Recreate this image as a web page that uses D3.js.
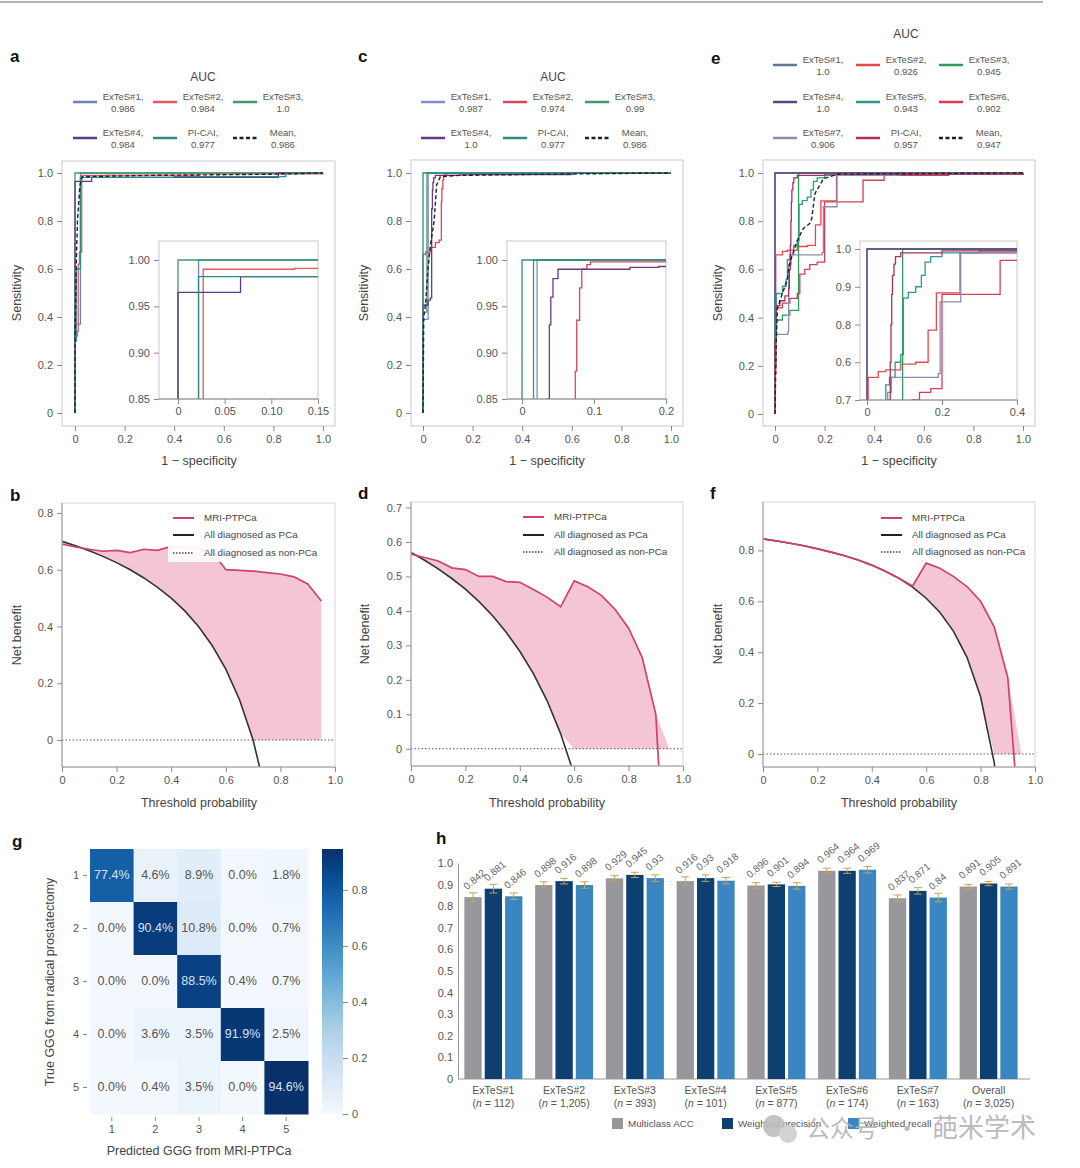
<!DOCTYPE html>
<html>
<head>
<meta charset="utf-8">
<script src="https://cdn.jsdelivr.net/npm/d3@7"></script>
<style>
  body { margin: 0; background: #fff; }
  svg { font-family: "Liberation Sans", Arial, sans-serif; }
</style>
</head>
<body>
<svg id="fig" width="1080" height="1168"></svg>
<script>
// ---------------- data: ROC panels ----------------
const rocNamesA = ['ExTeS#1', 'ExTeS#2', 'ExTeS#3', 'ExTeS#4', 'PI-CAI', 'Mean'];
const rocAucA = ['0.986', '0.984', '1.0', '0.984', '0.977', '0.986'];
const rocColorsA = ['#6f80b9', '#e25a61', '#3f9b68', '#5b3b85', '#2b8c86', '#222'];
const rocPointsA = [
  [[0, 0], [0, 0.37], [0.022, 1], [1, 1]],
  [[0, 0], [0, 0.32], [0.01, 0.34], [0.013, 0.62], [0.018, 0.67], [0.027, 0.99], [0.125, 0.991], [0.5, 0.996], [1, 1]],
  [[0, 0], [0, 1], [1, 1]],
  [[0, 0], [0, 0.965], [0.067, 0.982], [0.82, 1], [1, 1]],
  [[0, 0], [0, 0.3], [0.005, 0.6], [0.022, 0.982], [0.4, 0.985], [0.85, 1], [1, 1]],
  [[0, 0], [0, 0.3], [0.005, 0.62], [0.01, 0.8], [0.02, 0.95], [0.03, 0.985], [0.3, 0.99], [0.8, 0.995], [1, 1]]
];

const rocNamesC = ['ExTeS#1', 'ExTeS#2', 'ExTeS#3', 'ExTeS#4', 'PI-CAI', 'Mean'];
const rocAucC = ['0.987', '0.974', '0.99', '1.0', '0.977', '0.986'];
const rocColorsC = ['#7d90c8', '#d9475a', '#3f9b68', '#6b3a80', '#2b8c86', '#222'];
const rocPointsC = [
  [[0, 0], [0, 0.39], [0.021, 1], [1, 1]],
  [[0, 0], [0, 0.66], [0.01, 0.67], [0.03, 0.69], [0.05, 0.71], [0.065, 0.72], [0.074, 0.88], [0.076, 0.935], [0.08, 0.97], [0.083, 0.99], [0.09, 0.995], [0.095, 0.998], [0.6, 1], [1, 1]],
  [[0, 0], [0, 0.42], [0.016, 1], [1, 1]],
  [[0, 0], [0, 0.45], [0.02, 0.47], [0.03, 0.48], [0.035, 0.85], [0.038, 0.93], [0.04, 0.96], [0.043, 0.98], [0.05, 0.99], [0.15, 0.992], [0.19, 0.993], [0.6, 1], [1, 1]],
  [[0, 0], [0, 1], [1, 1]],
  [[0, 0], [0.003, 0.4], [0.01, 0.45], [0.02, 0.6], [0.03, 0.7], [0.045, 0.8], [0.055, 0.95], [0.07, 0.985], [0.15, 0.99], [0.5, 0.995], [1, 1]]
];

const rocNamesE = ['ExTeS#1', 'ExTeS#2', 'ExTeS#3', 'ExTeS#4', 'ExTeS#5', 'ExTeS#6', 'ExTeS#7', 'PI-CAI', 'Mean'];
const rocAucE = ['1.0', '0.926', '0.945', '1.0', '0.943', '0.902', '0.906', '0.957', '0.947'];
const rocColorsE = ['#5b7a9c', '#e8474c', '#2f9a5c', '#5d4585', '#2a9b8c', '#d63d55', '#8c8cb4', '#a8325e', '#222'];
const rocPointsE = [
  [[0, 0], [0, 1], [1, 1]],
  [[0, 0], [0, 0.17], [0.003, 0.66], [0.03, 0.675], [0.05, 0.68], [0.09, 0.695], [0.13, 0.7], [0.163, 0.785], [0.185, 0.884], [0.248, 0.99], [0.5, 0.995], [1, 1]],
  [[0, 0], [0, 0.3], [0.005, 0.39], [0.03, 0.41], [0.06, 0.43], [0.095, 1], [1, 1]],
  [[0, 0], [0, 1], [1, 1]],
  [[0, 0], [0, 0.45], [0.005, 0.5], [0.03, 0.53], [0.045, 0.56], [0.05, 0.64], [0.06, 0.66], [0.075, 0.7], [0.09, 0.72], [0.097, 0.87], [0.11, 0.885], [0.13, 0.9], [0.145, 0.93], [0.155, 0.965], [0.17, 0.98], [0.2, 0.99], [0.3, 0.995], [1, 1]],
  [[0, 0], [0, 0.2], [0.003, 0.44], [0.03, 0.46], [0.06, 0.48], [0.09, 0.5], [0.1, 0.58], [0.12, 0.6], [0.14, 0.62], [0.17, 0.63], [0.2, 0.88], [0.355, 0.97], [0.44, 0.99], [0.7, 0.995], [1, 1]],
  [[0, 0], [0, 0.2], [0.004, 0.33], [0.052, 0.34], [0.055, 0.62], [0.065, 0.66], [0.19, 0.67], [0.195, 0.86], [0.25, 0.99], [0.5, 0.995], [1, 1]],
  [[0, 0], [0, 0.3], [0.005, 0.45], [0.02, 0.47], [0.04, 0.49], [0.055, 0.52], [0.058, 0.6], [0.062, 0.7], [0.064, 0.8], [0.066, 0.88], [0.068, 0.93], [0.072, 0.96], [0.076, 0.98], [0.09, 0.99], [0.2, 0.995], [1, 1]],
  [[0, 0], [0.005, 0.3], [0.01, 0.44], [0.03, 0.5], [0.05, 0.56], [0.06, 0.63], [0.067, 0.65], [0.09, 0.72], [0.114, 0.77], [0.14, 0.79], [0.148, 0.81], [0.161, 0.914], [0.195, 0.976], [0.25, 0.995], [1, 1]]
];
const insetTicksE = [0.6, 0.7, 0.8, 0.9, 1.0];
const insetLabelsE = ['0.7', '0.6', '0.8', '0.9', '1.0'];

// ---------------- data: decision curves ----------------
const thresholds = [0, 0.05, 0.1, 0.15, 0.2, 0.25, 0.3, 0.35, 0.4, 0.45, 0.5, 0.55, 0.6, 0.65, 0.7, 0.75, 0.8, 0.85, 0.9, 0.95];
const dcaModelB = [0.69, 0.68, 0.672, 0.665, 0.668, 0.66, 0.672, 0.668, 0.682, 0.68, 0.675, 0.665, 0.6, 0.598, 0.595, 0.59, 0.585, 0.575, 0.55, 0.49];
const dcaAllB = [0.7, 0.684, 0.667, 0.647, 0.625, 0.6, 0.571, 0.538, 0.5, 0.455, 0.4, 0.333, 0.25, 0.143, 0, -0.2, -0.5, -1.0, -2.0, -5.0];
const dcaModelD = [0.565, 0.555, 0.545, 0.525, 0.52, 0.5, 0.5, 0.485, 0.483, 0.462, 0.44, 0.412, 0.487, 0.47, 0.445, 0.405, 0.35, 0.265, 0.1, -0.6];
const dcaAllD = [0.57, 0.547, 0.522, 0.494, 0.463, 0.427, 0.386, 0.338, 0.283, 0.218, 0.14, 0.044, -0.075, -0.24, -0.46, -0.76, -1.2, -1.85, -3.0, -6.2];
const dcaModelF = [0.845, 0.837, 0.828, 0.818, 0.806, 0.793, 0.779, 0.762, 0.742, 0.718, 0.69, 0.66, 0.75, 0.73, 0.698, 0.658, 0.6, 0.5, 0.3, -0.38];
const dcaAllF = [0.845, 0.837, 0.828, 0.818, 0.806, 0.793, 0.779, 0.762, 0.742, 0.718, 0.69, 0.656, 0.612, 0.557, 0.483, 0.38, 0.225, -0.033, -0.55, -2.1];
const dcaLegend = ['MRI-PTPCa', 'All diagnosed as PCa', 'All diagnosed as non-PCa'];

// ---------------- data: confusion matrix ----------------
const gggLabels = [1, 2, 3, 4, 5];
const confusion = [
  [77.4, 4.6, 8.9, 0.0, 1.8],
  [0.0, 90.4, 10.8, 0.0, 0.7],
  [0.0, 0.0, 88.5, 0.4, 0.7],
  [0.0, 3.6, 3.5, 91.9, 2.5],
  [0.0, 0.4, 3.5, 0.0, 94.6]
];
const colorbarTicks = [0, 0.2, 0.4, 0.6, 0.8];

// ---------------- data: bars ----------------
const cohorts = ['ExTeS#1', 'ExTeS#2', 'ExTeS#3', 'ExTeS#4', 'ExTeS#5', 'ExTeS#6', 'ExTeS#7', 'Overall'];
const cohortN = ['112', '1,205', '393', '101', '877', '174', '163', '3,025'];
const metricNames = ['Multiclass ACC', 'Weighted precision', 'Weighted recall'];
const accValues = [0.842, 0.898, 0.929, 0.916, 0.896, 0.964, 0.837, 0.891];
const precValues = [0.881, 0.916, 0.945, 0.93, 0.901, 0.964, 0.871, 0.905];
const recValues = [0.846, 0.898, 0.93, 0.918, 0.894, 0.969, 0.84, 0.891];
const accErr = [0.02, 0.015, 0.012, 0.02, 0.013, 0.012, 0.015, 0.01];
const precErr = [0.02, 0.013, 0.012, 0.015, 0.01, 0.012, 0.015, 0.01];
const recErr = [0.015, 0.015, 0.015, 0.015, 0.015, 0.015, 0.02, 0.012];
const barTicks = [0, 0.1, 0.2, 0.3, 0.4, 0.5, 0.6, 0.7, 0.8, 0.9, 1.0];

// ---------------- helpers ----------------
const svg = d3.select('#fig');
const fmt1 = d => d === 0 ? '0' : d3.format('.1f')(d);
const fmt2 = d => d === 0 ? '0' : d3.format('.2f')(d);

function styleAxis(sel) {
  sel.select('.domain').remove();
  sel.selectAll('.tick line').attr('stroke', '#8a8a8a');
  sel.selectAll('.tick text').attr('fill', '#555').style('font-size', '11px');
}

function panelLetter(t, x, y) {
  svg.append('text').attr('x', x).attr('y', y).text(t)
    .attr('font-weight', 'bold').attr('font-size', 17).attr('fill', '#111')
    .attr('dominant-baseline', 'middle');
}

function axisTitle(t, x, y, rot) {
  svg.append('text').text(t)
    .attr('transform', `translate(${x},${y})` + (rot ? ' rotate(-90)' : ''))
    .attr('text-anchor', 'middle').attr('dominant-baseline', 'middle')
    .attr('font-size', 12.5).attr('fill', '#444');
}

svg.append('line').attr('x1', 0).attr('x2', 1043).attr('y1', 2).attr('y2', 2)
  .attr('stroke', '#9a9a9a').attr('stroke-width', 1.5);

// ---------------- ROC ----------------
function drawRoc(p) {
  const g = svg.append('g');
  const [bx0, by0, bx1, by1] = p.box;
  const x = d3.scaleLinear().domain([0, 1]).range(p.xRange);
  const y = d3.scaleLinear().domain([0, 1]).range(p.yRange);

  // legend
  g.append('text').attr('x', p.legend.x0 + p.legend.dx + 50).attr('y', p.legend.auc)
    .attr('text-anchor', 'middle').attr('dominant-baseline', 'middle')
    .attr('font-size', 12).attr('fill', '#444').text('AUC');
  p.names.forEach((name, i) => {
    const cx = p.legend.x0 + (i % 3) * p.legend.dx;
    const cy = p.legend.rows[Math.floor(i / 3)];
    g.append('line').attr('x1', cx).attr('x2', cx + 24).attr('y1', cy).attr('y2', cy)
      .attr('stroke', p.colors[i]).attr('stroke-width', 2.5)
      .attr('stroke-dasharray', i === p.meanIdx ? '4,2.5' : null);
    const t = g.append('text').attr('text-anchor', 'middle').attr('font-size', 9.5).attr('fill', '#555');
    t.append('tspan').attr('x', cx + 50).attr('y', cy - 2).text(name + ',');
    t.append('tspan').attr('x', cx + 50).attr('y', cy + 10).text(p.aucs[i]);
  });

  g.append('rect').attr('x', bx0).attr('y', by0).attr('width', bx1 - bx0).attr('height', by1 - by0)
    .attr('fill', 'none').attr('stroke', '#c9c9c9');
  g.append('g').attr('transform', `translate(${bx0},0)`)
    .call(d3.axisLeft(y).tickValues([0, 0.2, 0.4, 0.6, 0.8, 1]).tickFormat(fmt1).tickSize(5).tickPadding(4))
    .call(styleAxis);
  g.append('g').attr('transform', `translate(0,${by1})`)
    .call(d3.axisBottom(x).tickValues([0, 0.2, 0.4, 0.6, 0.8, 1]).tickFormat(fmt1).tickSize(5).tickPadding(4))
    .call(styleAxis);

  const step = d3.line().x(d => x(d[0])).y(d => y(d[1])).curve(d3.curveStepAfter);
  const lin = d3.line().x(d => x(d[0])).y(d => y(d[1]));
  p.points.forEach((pts, i) => {
    g.append('path').attr('d', i === p.meanIdx ? lin(pts) : step(pts))
      .attr('fill', 'none').attr('stroke', p.colors[i])
      .attr('stroke-width', i === p.meanIdx ? 1.4 : 1.3)
      .attr('stroke-dasharray', i === p.meanIdx ? '4,2.5' : null);
  });

  // inset
  const ins = p.inset;
  const [ix0, iy0, ix1, iy1] = ins.box;
  const ix = d3.scaleLinear().domain(ins.xDomain).range(ins.xRange);
  const iy = d3.scaleLinear().domain(ins.yDomain).range(ins.yRange);
  g.append('rect').attr('x', ix0).attr('y', iy0).attr('width', ix1 - ix0).attr('height', iy1 - iy0)
    .attr('fill', '#fff').attr('stroke', '#c9c9c9');
  g.append('clipPath').attr('id', p.id + '-clip').append('rect')
    .attr('x', ix0).attr('y', iy0).attr('width', ix1 - ix0).attr('height', iy1 - iy0);
  const gi = g.append('g').attr('clip-path', `url(#${p.id}-clip)`);
  const istep = d3.line().x(d => ix(d[0])).y(d => iy(d[1])).curve(d3.curveStepAfter);
  p.points.forEach((pts, i) => {
    if (i === p.meanIdx) return;
    gi.append('path').attr('d', istep(pts)).attr('fill', 'none')
      .attr('stroke', p.colors[i]).attr('stroke-width', 1.3);
  });
  g.append('line').attr('x1', ix0).attr('x2', ix1).attr('y1', iy1).attr('y2', iy1).attr('stroke', '#888');
  g.append('g').attr('transform', `translate(${ix0},0)`)
    .call(d3.axisLeft(iy).tickValues(ins.yTicks).tickFormat((d, i) => ins.yLabels ? ins.yLabels[i] : fmt2(d)).tickSize(5).tickPadding(4))
    .call(styleAxis);
  g.append('g').attr('transform', `translate(0,${iy1})`)
    .call(d3.axisBottom(ix).tickValues(ins.xTicks).tickFormat(ins.xFmt).tickSize(5).tickPadding(3))
    .call(styleAxis);
}

drawRoc({
  id: 'rocA', box: [62, 161, 335, 426], xRange: [75, 323], yRange: [413, 173],
  names: rocNamesA, aucs: rocAucA, colors: rocColorsA, points: rocPointsA, meanIdx: 5,
  legend: { x0: 73, dx: 80, rows: [102, 138], auc: 78 },
  inset: { box: [159, 241, 318, 399], xDomain: [0, 0.15], xRange: [178, 318], yDomain: [0.85, 1.0], yRange: [399, 260],
    xTicks: [0, 0.05, 0.1, 0.15], xFmt: fmt2, yTicks: [0.85, 0.9, 0.95, 1.0] }
});
drawRoc({
  id: 'rocC', box: [411, 160, 683, 426], xRange: [423, 671], yRange: [413, 173],
  names: rocNamesC, aucs: rocAucC, colors: rocColorsC, points: rocPointsC, meanIdx: 5,
  legend: { x0: 421, dx: 82, rows: [102, 138], auc: 78 },
  inset: { box: [507, 241, 666, 399], xDomain: [0, 0.2], xRange: [522, 666], yDomain: [0.85, 1.0], yRange: [399, 260],
    xTicks: [0, 0.1, 0.2], xFmt: fmt1, yTicks: [0.85, 0.9, 0.95, 1.0] }
});
drawRoc({
  id: 'rocE', box: [763, 160, 1035, 426], xRange: [775, 1023], yRange: [414, 173],
  names: rocNamesE, aucs: rocAucE, colors: rocColorsE, points: rocPointsE, meanIdx: 8,
  legend: { x0: 773, dx: 83, rows: [65, 102, 138], auc: 35 },
  inset: { box: [860, 241, 1017, 400], xDomain: [0, 0.4], xRange: [867, 1017], yDomain: [0.6, 1.0], yRange: [400, 249],
    xTicks: [0, 0.2, 0.4], xFmt: fmt1, yTicks: insetTicksE, yLabels: insetLabelsE }
});

panelLetter('a', 10, 58); panelLetter('c', 358, 58); panelLetter('e', 711, 60);
axisTitle('1 − specificity', 199, 462); axisTitle('1 − specificity', 547, 462); axisTitle('1 − specificity', 899, 462);
axisTitle('Sensitivity', 18, 293, true); axisTitle('Sensitivity', 365, 293, true); axisTitle('Sensitivity', 719, 293, true);

// ---------------- decision curves ----------------
function drawDca(p) {
  const g = svg.append('g');
  const [bx0, by0, bx1, by1] = p.box;
  const x = d3.scaleLinear().domain([0, 1]).range([bx0, bx1]);
  const y = d3.scaleLinear().domain(p.yDomain).range([by1, by0]);
  const rows = thresholds.map((t, i) => ({ t, m: p.model[i], a: p.all[i] }));

  g.append('clipPath').attr('id', p.id + '-clip').append('rect')
    .attr('x', bx0).attr('y', by0).attr('width', bx1 - bx0).attr('height', by1 - by0);
  const gc = g.append('g').attr('clip-path', `url(#${p.id}-clip)`);

  const area = d3.area().x(d => x(d.t)).y0(d => y(Math.max(d.a, 0))).y1(d => y(Math.max(d.m, 0)));
  gc.append('path').attr('d', area(rows)).attr('fill', '#f4c5d2');
  gc.append('line').attr('x1', bx0).attr('x2', bx1).attr('y1', y(0)).attr('y2', y(0))
    .attr('stroke', '#555').attr('stroke-width', 1).attr('stroke-dasharray', '1.5,2');
  gc.append('path').attr('d', d3.line().x(d => x(d.t)).y(d => y(d.a))(rows))
    .attr('fill', 'none').attr('stroke', '#333').attr('stroke-width', 1.6);
  gc.append('path').attr('d', d3.line().x(d => x(d.t)).y(d => y(d.m))(rows))
    .attr('fill', 'none').attr('stroke', '#d1416c').attr('stroke-width', 1.7);

  g.append('rect').attr('x', bx0).attr('y', by0).attr('width', bx1 - bx0).attr('height', by1 - by0)
    .attr('fill', 'none').attr('stroke', '#d6d6d6');
  g.append('line').attr('x1', bx0).attr('x2', bx0).attr('y1', by0).attr('y2', by1).attr('stroke', '#999');
  g.append('line').attr('x1', bx0).attr('x2', bx1).attr('y1', by1).attr('y2', by1).attr('stroke', '#999');
  g.append('g').attr('transform', `translate(${bx0},0)`)
    .call(d3.axisLeft(y).tickValues(p.yTicks).tickFormat(fmt1).tickSize(5).tickPadding(4)).call(styleAxis);
  g.append('g').attr('transform', `translate(0,${by1})`)
    .call(d3.axisBottom(x).tickValues([0, 0.2, 0.4, 0.6, 0.8, 1]).tickFormat(fmt1).tickSize(5).tickPadding(4)).call(styleAxis);

  // legend
  if (p.legendBg) {
    g.append('rect').attr('x', p.legendBg[0]).attr('y', p.legendBg[1])
      .attr('width', p.legendBg[2]).attr('height', p.legendBg[3]).attr('fill', '#fff').attr('opacity', 0.92);
  }
  const styles = [
    { c: '#d1416c', w: 2, dash: null },
    { c: '#222', w: 2, dash: null },
    { c: '#444', w: 1.3, dash: '1.5,1.5' }
  ];
  dcaLegend.forEach((name, i) => {
    const ly = p.legend.rows[i];
    g.append('line').attr('x1', p.legend.x0).attr('x2', p.legend.x0 + 21).attr('y1', ly).attr('y2', ly)
      .attr('stroke', styles[i].c).attr('stroke-width', styles[i].w).attr('stroke-dasharray', styles[i].dash);
    g.append('text').attr('x', p.legend.x0 + 31).attr('y', ly).attr('dominant-baseline', 'middle')
      .attr('font-size', 9.8).attr('fill', '#444').text(name);
  });
}

drawDca({ id: 'dcaB', box: [62, 503, 335, 767], yDomain: [-0.095, 0.835], yTicks: [0, 0.2, 0.4, 0.6, 0.8],
  model: dcaModelB, all: dcaAllB, legend: { x0: 173, rows: [518, 535, 553] }, legendBg: [168, 510, 158, 52] });
drawDca({ id: 'dcaD', box: [411, 502, 683, 766], yDomain: [-0.05, 0.716], yTicks: [0, 0.1, 0.2, 0.3, 0.4, 0.5, 0.6, 0.7],
  model: dcaModelD, all: dcaAllD, legend: { x0: 523, rows: [517, 535, 552] } });
drawDca({ id: 'dcaF', box: [763, 502, 1035, 767], yDomain: [-0.051, 0.99], yTicks: [0, 0.2, 0.4, 0.6, 0.8],
  model: dcaModelF, all: dcaAllF, legend: { x0: 881, rows: [518, 535, 552] } });

panelLetter('b', 10, 497); panelLetter('d', 358, 495); panelLetter('f', 710, 495);
axisTitle('Threshold probability', 199, 804); axisTitle('Threshold probability', 547, 804); axisTitle('Threshold probability', 899, 804);
axisTitle('Net benefit', 18, 635, true); axisTitle('Net benefit', 366, 634, true); axisTitle('Net benefit', 719, 634, true);

// ---------------- confusion matrix ----------------
(function () {
  const g = svg.append('g');
  const x = d3.scaleBand().domain(gggLabels).range([90, 308]);
  const y = d3.scaleBand().domain(gggLabels).range([849, 1114]);
  const vmax = 0.946;
  const color = d3.scaleSequential(d3.interpolateBlues).domain([-0.02, vmax]);
  const cells = [];
  confusion.forEach((row, r) => row.forEach((v, c) => cells.push({ r: gggLabels[r], c: gggLabels[c], v })));
  g.selectAll('rect.cell').data(cells).join('rect').attr('class', 'cell')
    .attr('x', d => x(d.c)).attr('y', d => y(d.r))
    .attr('width', x.bandwidth() + 0.5).attr('height', y.bandwidth() + 0.5)
    .attr('fill', d => color(d.v / 100));
  g.selectAll('text.val').data(cells).join('text').attr('class', 'val')
    .attr('x', d => x(d.c) + x.bandwidth() / 2).attr('y', d => y(d.r) + y.bandwidth() / 2)
    .attr('text-anchor', 'middle').attr('dominant-baseline', 'middle').attr('font-size', 12.5)
    .attr('fill', d => d.v > 50 ? '#d3e4f4' : '#555')
    .text(d => d3.format('.1f')(d.v) + '%');

  g.append('g').attr('transform', 'translate(87,0)')
    .call(d3.axisLeft(y).tickSize(4).tickPadding(4)).call(styleAxis);
  g.append('g').attr('transform', 'translate(0,1117)')
    .call(d3.axisBottom(x).tickSize(4).tickPadding(4)).call(styleAxis);

  // colorbar
  const cb = d3.scaleLinear().domain([0, vmax]).range([1114, 849]);
  const grad = svg.append('defs').append('linearGradient').attr('id', 'cbGrad')
    .attr('x1', 0).attr('y1', 1).attr('x2', 0).attr('y2', 0);
  d3.range(0, 1.001, 0.1).forEach(t => grad.append('stop').attr('offset', t).attr('stop-color', color(t * vmax)));
  g.append('rect').attr('x', 322).attr('y', 849).attr('width', 21).attr('height', 265).attr('fill', 'url(#cbGrad)');
  g.append('g').attr('transform', 'translate(343,0)')
    .call(d3.axisRight(cb).tickValues(colorbarTicks).tickFormat(fmt1).tickSize(5).tickPadding(4)).call(styleAxis);
})();
panelLetter('g', 12, 843);
axisTitle('Predicted GGG from MRI-PTPCa', 199, 1152);
axisTitle('True GGG from radical prostatectomy', 51, 982, true);

// ---------------- bars ----------------
(function () {
  const g = svg.append('g');
  const series = [accValues, precValues, recValues];
  const errs = [accErr, precErr, recErr];
  const colors = ['#98989c', '#0d3f70', '#3a86c0'];
  const x0 = d3.scaleBand().domain(cohorts).range([458, 1024]).paddingInner(0.18).paddingOuter(0.09);
  const x1 = d3.scaleBand().domain([0, 1, 2]).range([0, x0.bandwidth()]).paddingInner(0.15);
  const y = d3.scaleLinear().domain([0, 1]).range([1079, 863]);

  const yAx = g.append('g').attr('transform', 'translate(458,0)')
    .call(d3.axisLeft(y).tickValues(barTicks).tickFormat(fmt1).tickSize(0).tickPadding(5).tickSizeOuter(0));
  yAx.selectAll('.tick text').attr('fill', '#555').style('font-size', '11px');
  yAx.select('.domain').attr('stroke', '#999');
  g.append('line').attr('x1', 458).attr('x2', 1030).attr('y1', 1079).attr('y2', 1079).attr('stroke', '#999');

  const data = [];
  cohorts.forEach((c, i) => series.forEach((s, k) => data.push({ c, k, v: s[i], e: errs[k][i] })));
  g.selectAll('rect.bar').data(data).join('rect').attr('class', 'bar')
    .attr('x', d => x0(d.c) + x1(d.k)).attr('width', x1.bandwidth())
    .attr('y', d => y(d.v)).attr('height', d => y(0) - y(d.v)).attr('fill', d => colors[d.k]);

  const eb = g.selectAll('g.err').data(data).join('g').attr('class', 'err')
    .attr('transform', d => `translate(${x0(d.c) + x1(d.k) + x1.bandwidth() / 2},0)`);
  eb.append('line').attr('y1', d => y(d.v - d.e)).attr('y2', d => y(d.v + d.e)).attr('stroke', '#c9a253').attr('stroke-width', 1);
  eb.append('line').attr('x1', -4).attr('x2', 4).attr('y1', d => y(d.v + d.e)).attr('y2', d => y(d.v + d.e)).attr('stroke', '#c9a253');
  eb.append('line').attr('x1', -4).attr('x2', 4).attr('y1', d => y(d.v - d.e)).attr('y2', d => y(d.v - d.e)).attr('stroke', '#c9a253');

  g.selectAll('text.vl').data(data).join('text').attr('class', 'vl')
    .attr('transform', d => `translate(${x0(d.c) + x1(d.k) + x1.bandwidth() / 2 - 6},${y(d.v) - 7}) rotate(-40)`)
    .attr('font-size', 10).attr('fill', '#666').text(d => String(d.v));

  cohorts.forEach((c, i) => {
    const cx = x0(c) + x0.bandwidth() / 2;
    g.append('text').attr('x', cx).attr('y', 1091).attr('text-anchor', 'middle').attr('dominant-baseline', 'middle')
      .attr('font-size', 10.5).attr('fill', '#555').text(c);
    const t = g.append('text').attr('x', cx).attr('y', 1104).attr('text-anchor', 'middle').attr('dominant-baseline', 'middle')
      .attr('font-size', 10.5).attr('fill', '#555');
    t.append('tspan').text('(');
    t.append('tspan').attr('font-style', 'italic').text('n');
    t.append('tspan').text(' = ' + cohortN[i] + ')');
  });

  const legX = [612, 722, 848];
  metricNames.forEach((m, k) => {
    g.append('rect').attr('x', legX[k]).attr('y', 1118).attr('width', 11).attr('height', 11).attr('fill', colors[k]);
    g.append('text').attr('x', legX[k] + 16).attr('y', 1124).attr('dominant-baseline', 'middle')
      .attr('font-size', 9.8).attr('fill', '#555').text(m);
  });
})();
panelLetter('h', 436, 840);

// watermark (sits below the cohort labels)
const wm = svg.append('g').attr('opacity', 0.9);
wm.append('circle').attr('cx', 774).attr('cy', 1126).attr('r', 11).attr('fill', '#bdbdbd');
wm.append('circle').attr('cx', 788).attr('cy', 1134).attr('r', 9).attr('fill', '#cfcfcf');
wm.append('text').attr('x', 806).attr('y', 1137)
  .attr('font-family', '"Noto Sans CJK SC", sans-serif').attr('font-size', 24).attr('fill', '#b4b4b4')
  .text('公众号');
wm.append('text').attr('x', 895).attr('y', 1137)
  .attr('font-family', '"Noto Sans CJK SC", sans-serif').attr('font-size', 24).attr('fill', '#b4b4b4')
  .text('·');
wm.append('text').attr('x', 932).attr('y', 1137)
  .attr('font-family', '"Noto Sans CJK SC", sans-serif').attr('font-size', 26).attr('fill', '#b4b4b4')
  .text('葩米学术');
</script>
</body>
</html>
